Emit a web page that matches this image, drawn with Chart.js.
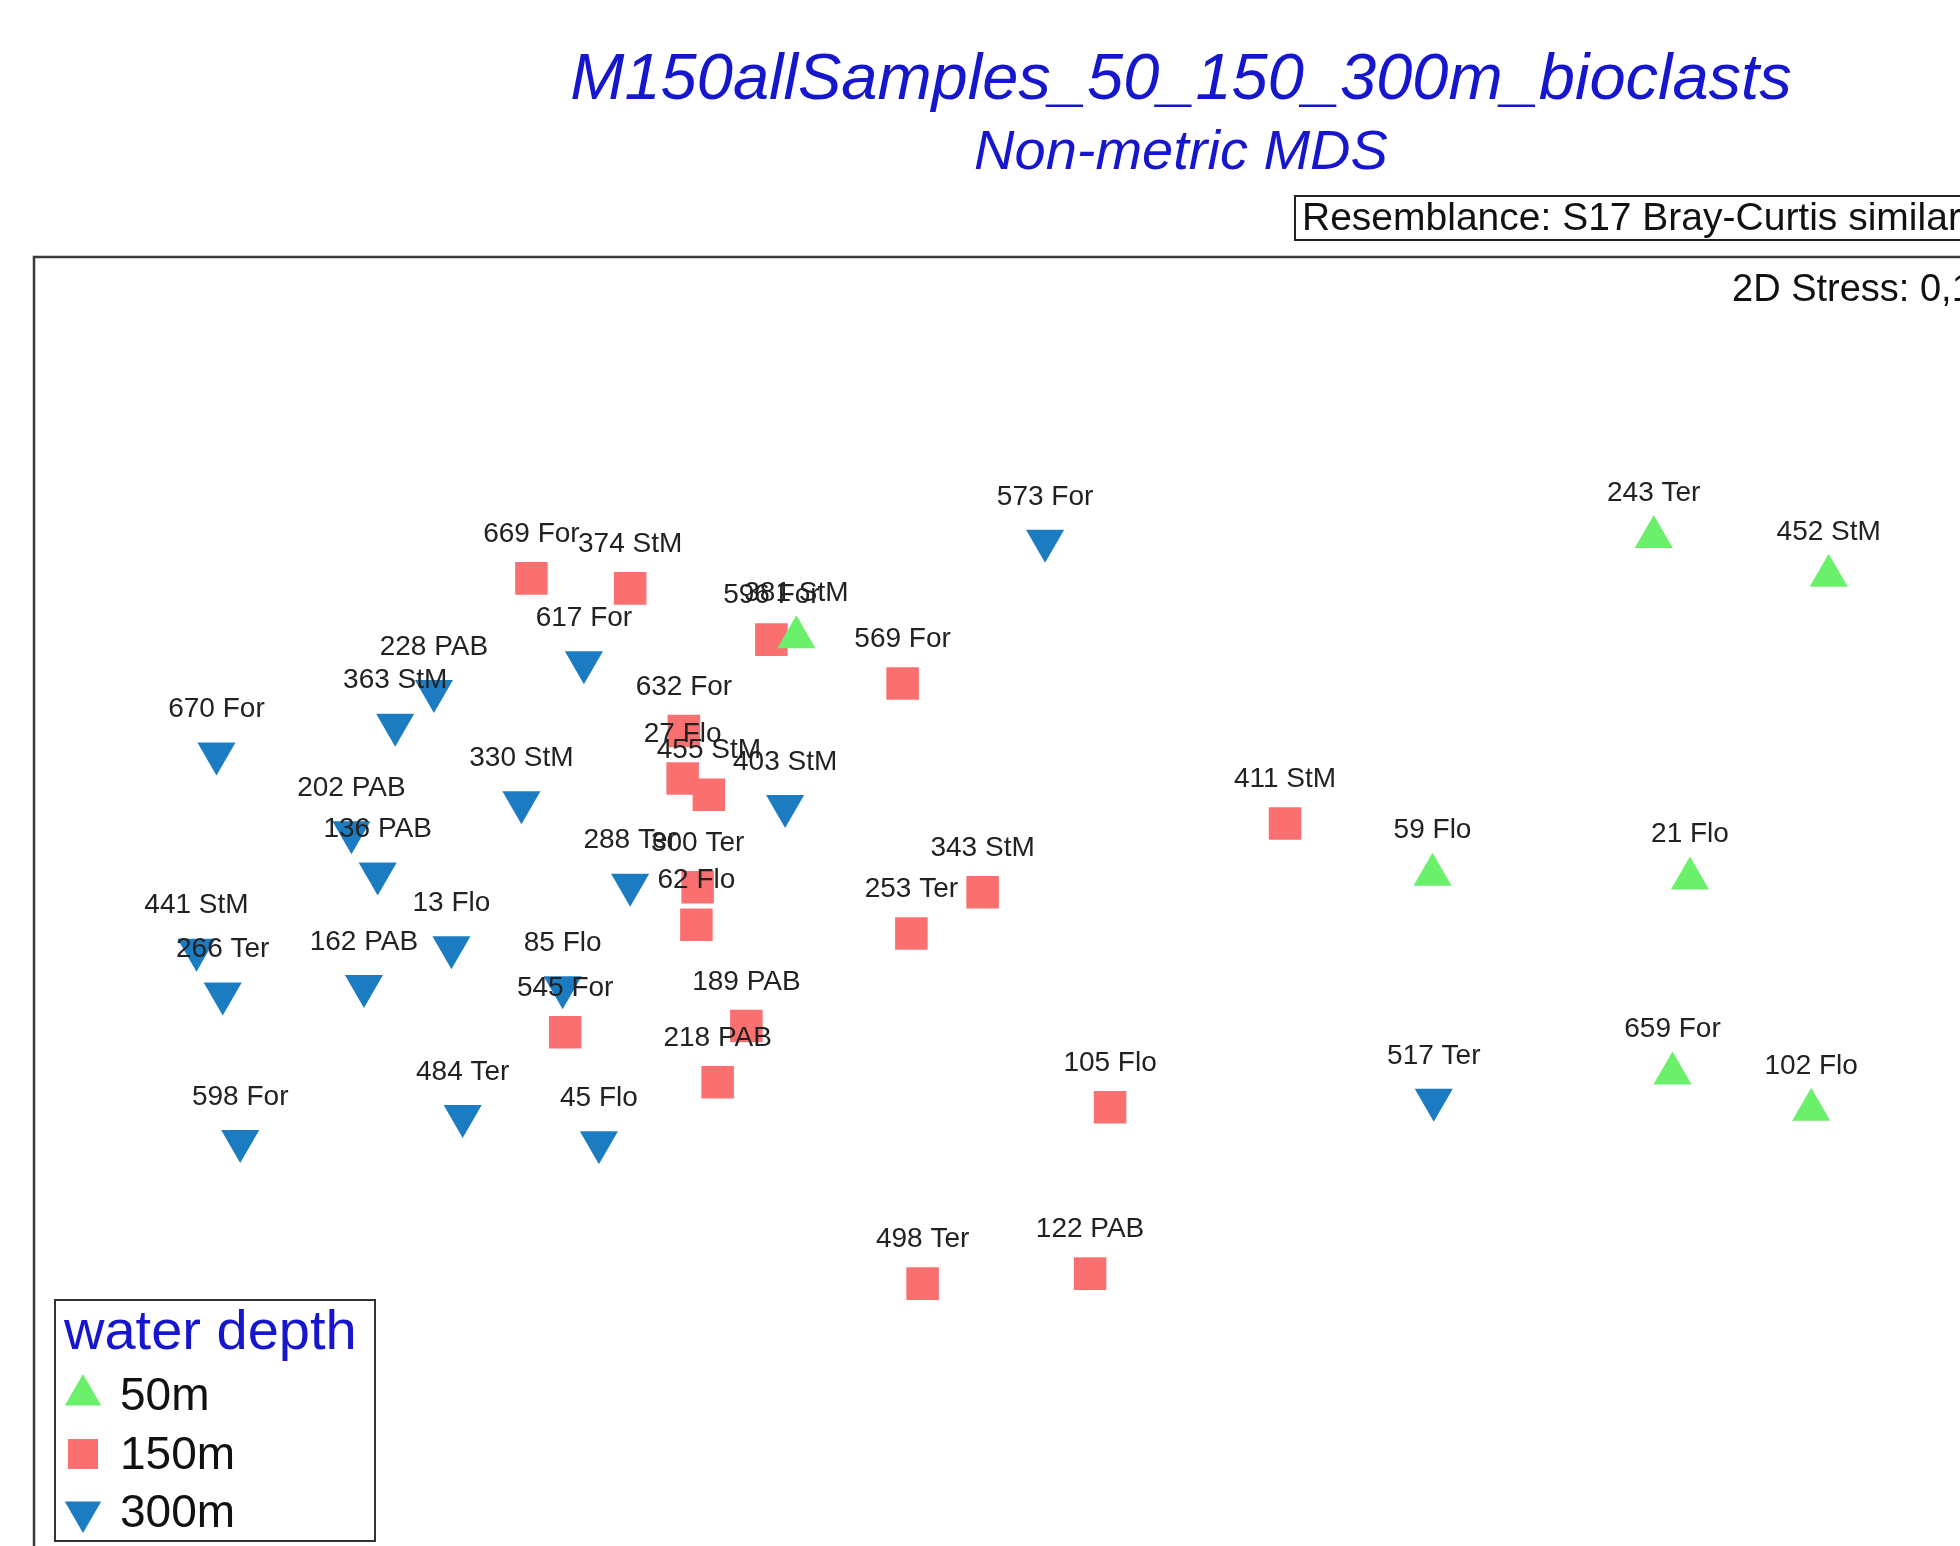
<!DOCTYPE html>
<html>
<head>
<meta charset="utf-8">
<title>M150allSamples_50_150_300m_bioclasts</title>
<script src="https://cdn.jsdelivr.net/npm/chart.js@4"></script>
<style>
  html, body { margin: 0; padding: 0; background: #fff; overflow: hidden; }
  #wrap { position: relative; width: 2362px; height: 1700px; }
</style>
</head>
<body>
<div id="wrap"><canvas id="mds"></canvas></div>
<script>
// MDS ordination coordinates (arbitrary MDS units)
// 50m samples
const labels50 = ['243 Ter', '452 StM', '381 StM', '59 Flo', '21 Flo', '659 For', '102 Flo'];
const mds1_50 = [0.756, 1.036, -0.616, 0.402, 0.814, 0.786, 1.008];
const mds2_50 = [0.666, 0.604, 0.506, 0.126, 0.120, -0.192, -0.250];

// 150m samples
const labels150 = ['669 For', '374 StM', '596 For', '569 For', '632 For', '27 Flo', '455 StM', '300 Ter', '62 Flo',
  '545 For', '189 PAB', '218 PAB', '343 StM', '253 Ter', '411 StM', '105 Flo', '498 Ter', '122 PAB'];
const mds1_150 = [-1.040, -0.882, -0.656, -0.446, -0.796, -0.798, -0.756, -0.774, -0.776,
  -0.986, -0.696, -0.742, -0.318, -0.432, 0.166, -0.114, -0.414, -0.146];
const mds2_150 = [0.600, 0.584, 0.502, 0.432, 0.356, 0.280, 0.254, 0.106, 0.046,
  -0.126, -0.116, -0.206, 0.098, 0.032, 0.208, -0.246, -0.528, -0.512];

// 300m samples
const labels300 = ['573 For', '617 For', '228 PAB', '363 StM', '670 For', '330 StM', '403 StM', '202 PAB', '136 PAB', '288 Ter',
  '13 Flo', '441 StM', '266 Ter', '162 PAB', '85 Flo', '598 For', '484 Ter', '45 Flo', '517 Ter'];
const mds1_300 = [-0.218, -0.956, -1.196, -1.258, -1.544, -1.056, -0.634, -1.328, -1.286, -0.882,
  -1.168, -1.576, -1.534, -1.308, -0.990, -1.506, -1.150, -0.932, 0.404];
const mds2_300 = [0.660, 0.466, 0.420, 0.366, 0.320, 0.242, 0.236, 0.194, 0.128, 0.110,
  0.010, 0.006, -0.064, -0.052, -0.054, -0.300, -0.260, -0.302, -0.234];

const groupNames = ['50m', '150m', '300m'];
const FONT = "'Liberation Sans', Arial, sans-serif";
const BLUE_TEXT = 'rgb(22, 22, 205)';

function toPoints(xs, ys) {
  return xs.map((x, i) => ({ x: x, y: ys[i] }));
}

const datasets = [
  {
    label: groupNames[0],
    data: toPoints(mds1_50, mds2_50),
    names: labels50,
    backgroundColor: 'rgb(106, 240, 106)',
    pointStyle: 'triangle',
    pointRotation: 0,
    pointRadius: 22,
    pointBorderWidth: 0
  },
  {
    label: groupNames[1],
    data: toPoints(mds1_150, mds2_150),
    names: labels150,
    backgroundColor: 'rgb(250, 112, 112)',
    pointStyle: 'rect',
    pointRadius: 23,
    pointBorderWidth: 0
  },
  {
    label: groupNames[2],
    data: toPoints(mds1_300, mds2_300),
    names: labels300,
    backgroundColor: 'rgb(28, 124, 194)',
    pointStyle: 'triangle',
    pointRotation: 180,
    pointRadius: 22,
    pointBorderWidth: 0
  }
];

// sample names above each symbol
const sampleLabels = {
  id: 'sampleLabels',
  afterDatasetsDraw(chart) {
    const ctx = chart.ctx;
    ctx.save();
    ctx.font = '28px ' + FONT;
    ctx.fillStyle = '#222';
    ctx.textAlign = 'center';
    ctx.textBaseline = 'middle';
    chart.data.datasets.forEach((ds, di) => {
      const meta = chart.getDatasetMeta(di);
      meta.data.forEach((pt, i) => {
        ctx.fillText(ds.names[i], pt.x, pt.y - 44);
      });
    });
    ctx.restore();
  }
};

// frame, resemblance box, stress value, legend box
const decorations = {
  id: 'decorations',
  afterDraw(chart) {
    const ctx = chart.ctx;
    const a = chart.chartArea;
    ctx.save();
    ctx.strokeStyle = '#3a3a3a';
    ctx.lineWidth = 2.5;
    ctx.strokeRect(a.left, a.top, a.right - a.left, a.bottom - a.top);

    // resemblance note
    ctx.font = '39px ' + FONT;
    ctx.textBaseline = 'middle';
    ctx.textAlign = 'left';
    ctx.fillStyle = '#111';
    const res = 'Resemblance: S17 Bray-Curtis similarity';
    const w = ctx.measureText(res).width;
    ctx.lineWidth = 2;
    ctx.strokeStyle = '#222';
    ctx.strokeRect(1295, 196, w + 16, 44);
    ctx.fillText(res, 1302, 219);

    ctx.font = '38px ' + FONT;
    ctx.fillText('2D Stress: 0,14', 1732, 291);

    // legend
    const lx = 55, ly = 1300, lw = 320, lh = 241;
    ctx.fillStyle = '#fff';
    ctx.fillRect(lx, ly, lw, lh);
    ctx.strokeStyle = '#333';
    ctx.lineWidth = 2;
    ctx.strokeRect(lx, ly, lw, lh);
    ctx.font = '56px ' + FONT;
    ctx.fillStyle = BLUE_TEXT;
    ctx.fillText('water depth', 64, 1334);

    const rows = [1395, 1454, 1512];
    ctx.font = '46px ' + FONT;
    chart.data.datasets.forEach((ds, i) => {
      const cx = 83, cy = rows[i];
      ctx.fillStyle = ds.backgroundColor;
      ctx.beginPath();
      if (ds.pointStyle === 'rect') {
        ctx.rect(cx - 15, cy - 15, 30, 30);
      } else {
        const r = 21;
        const dir = ds.pointRotation === 180 ? -1 : 1;
        ctx.moveTo(cx, cy - dir * r);
        ctx.lineTo(cx + r * 0.866, cy + dir * r / 2);
        ctx.lineTo(cx - r * 0.866, cy + dir * r / 2);
        ctx.closePath();
      }
      ctx.fill();
      ctx.fillStyle = '#111';
      ctx.fillText(ds.label, 120, cy + 2);
    });
    ctx.restore();
  }
};

new Chart(document.getElementById('mds').getContext('2d'), {
  type: 'scatter',
  data: { datasets: datasets },
  options: {
    responsive: true,
    maintainAspectRatio: false,
    animation: false,
    layout: { padding: { left: 34, right: 34, top: 0, bottom: 50 } },
    scales: {
      x: { type: 'linear', display: false, min: -1.836, max: 1.835 },
      y: { type: 'linear', display: false, min: -1.114, max: 1.114 }
    },
    plugins: {
      legend: { display: false },
      tooltip: { enabled: false },
      title: {
        display: true,
        text: 'M150allSamples_50_150_300m_bioclasts',
        color: BLUE_TEXT,
        font: { family: FONT, size: 65, style: 'italic', weight: 'normal', lineHeight: 1.2 },
        padding: { top: 42, bottom: 0 }
      },
      subtitle: {
        display: true,
        text: 'Non-metric MDS',
        color: BLUE_TEXT,
        font: { family: FONT, size: 56, style: 'italic', weight: 'normal', lineHeight: 1.2 },
        padding: { top: 0, bottom: 69.8 }
      }
    }
  },
  plugins: [sampleLabels, decorations]
});
</script>
</body>
</html>
